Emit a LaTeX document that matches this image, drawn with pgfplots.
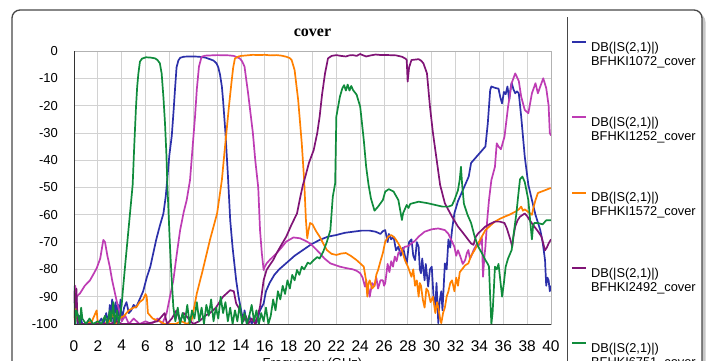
\documentclass[border=0pt]{standalone}
\usepackage{pgfplots}
\pgfplotsset{compat=1.18}
\usepackage{fontspec}
\setmainfont{Liberation Sans}
\newfontfamily\titlefont{Liberation Serif}
\definecolor{cblue}{RGB}{44,48,170}
\definecolor{cmag}{RGB}{190,60,180}
\definecolor{corange}{RGB}{255,128,0}
\definecolor{cpurple}{RGB}{128,20,118}
\definecolor{cgreen}{RGB}{16,140,60}
\newcommand{\lent}[1]{\begin{tabular}{@{}l@{}}DB(|S(2,1)|)\\#1\end{tabular}}
\begin{document}
\begin{tikzpicture}[x=1pt,y=1pt]
\fill[black!22, rounded corners=9pt] (-59,-70) rectangle (631.5,311);
\fill[white, rounded corners=8pt] (-62,-70) rectangle (628,314);
\draw[black!72, line width=1.3pt, rounded corners=8pt] (-62,-70) rectangle (628,314);
\draw[black!72, line width=1pt] (493,307) -- (493,-60);
\begin{axis}[
  anchor=south west, scale only axis,
  width=477pt, height=273pt,
  xmin=0, xmax=40, ymin=-100, ymax=0,
  xtick={0,2,...,40}, ytick={-100,-90,...,0},
  grid=major, grid style={gray!35, line width=0.8pt},
  major tick length=0pt,
  axis line style={draw=gray!60, line width=0.8pt},
  /pgf/number format/assume math mode=true,
  xticklabel style={inner sep=0pt, anchor=north, yshift=-16pt, font=\fontsize{15.5}{17}\selectfont},
  yticklabel style={inner sep=0pt, anchor=east, xshift=-16pt, font=\fontsize{13}{15}\selectfont},
  title={\titlefont\bfseries cover},
  title style={at={(axis description cs:0.5,1)}, anchor=base, yshift=8.3pt, font=\fontsize{16}{18}\selectfont},
  xlabel={Frequency (GHz)},
  xlabel style={at={(axis description cs:0.5,0)}, anchor=base, yshift=-43pt, font=\fontsize{13}{15}\selectfont},
  legend style={at={(axis description cs:1.0419,1.0385)}, anchor=north west,
    draw=none, fill=none, inner sep=0pt, row sep=56pt, column sep=4pt,
    font=\fontsize{12.8}{14}\selectfont, nodes={inner sep=0pt}, cells={anchor=west}},
  legend image code/.code={\draw[#1, line width=2pt] (0pt,8.8pt) -- (14pt,8.8pt); \path (0pt,-8.8pt);},
  after end axis/.code={\draw[black!80, line width=0.9pt] (rel axis cs:0,1) -- (rel axis cs:0,0) -- (rel axis cs:1,0);},
]
\addplot[cblue, line width=1.7pt, line join=round] coordinates {
(0,-86)(0.1,-95)(0.2,-90)(0.3,-100)(0.5,-97)(0.7,-100)(1.0,-100)(1.3,-99)(1.6,-100)(2.0,-100)(2.3,-98)(2.5,-100)(2.7,-96)(2.9,-100)(3.0,-93)(3.1,-99)(3.2,-91)(3.3,-100)(3.4,-94)(3.5,-92)(3.6,-100)(3.7,-93)(3.8,-97)(3.9,-91)(4.0,-99)(4.2,-94)(4.4,-92)(4.6,-96)(4.8,-95)(5.0,-93)(5.2,-94)(5.4,-92)(5.6,-90)(5.8,-88)(6.1,-83)(6.4,-79)(6.7,-73)(6.9,-69)(7.2,-64)(7.5,-59.5)(7.7,-53)(7.8,-48)(8.0,-38)(8.2,-31)(8.35,-22)(8.47,-14)(8.6,-6)(8.75,-3.5)(8.9,-2.5)(9.2,-2.1)(9.6,-2)(10.0,-2)(10.5,-2.1)(11.0,-2.4)(11.4,-3)(11.7,-3.5)(11.95,-4.5)(12.1,-6)(12.24,-8.5)(12.4,-13)(12.5,-18)(12.7,-30)(12.9,-45)(13.1,-62)(13.3,-72)(13.6,-84)(13.8,-90)(14.06,-96)(14.2,-99)(14.3,-95)(14.5,-100)(14.7,-97)(14.9,-100)(15.1,-98)(15.3,-99.6)(15.6,-95)(15.9,-92.5)(16.1,-88)(16.4,-85)(16.8,-82)(17.2,-80)(17.8,-77.7)(18.5,-75)(19.2,-72.9)(19.9,-70.8)(20.6,-69.2)(21.3,-68)(22.0,-67.4)(22.7,-66.6)(23.4,-66.2)(24.1,-65.8)(24.8,-65.8)(25.3,-66.2)(25.7,-67)(25.9,-66)(26.1,-65.6)(26.3,-70)(26.4,-67)(26.6,-69)(26.8,-68)(27.0,-73)(27.2,-71.7)(27.4,-75)(27.6,-72)(27.7,-74)(27.9,-78)(28.1,-70)(28.3,-69)(28.45,-75)(28.6,-76.6)(28.75,-70)(28.9,-71.7)(29.0,-80)(29.1,-81.4)(29.2,-76)(29.4,-84)(29.5,-78)(29.7,-86.3)(29.85,-80)(30.0,-79)(30.15,-90)(30.3,-93.7)(30.4,-85)(30.55,-99.7)(30.65,-92)(30.8,-88)(30.9,-95)(31.1,-77.8)(31.25,-80)(31.4,-69)(31.55,-72)(31.7,-65.6)(31.9,-59.4)(32.2,-55)(32.5,-52)(32.8,-49)(33.1,-46)(33.3,-41)(33.9,-38)(34.5,-35)(34.7,-26.5)(34.9,-14.3)(35.0,-13)(35.3,-13.5)(35.6,-13.8)(35.75,-17)(35.9,-19.2)(36.05,-15)(36.2,-15.8)(36.35,-13)(36.5,-18)(36.6,-14)(36.7,-11.6)(36.85,-14)(37.0,-15.5)(37.15,-14.8)(37.3,-15.5)(37.5,-24)(37.8,-38.7)(38.1,-49)(38.4,-54.6)(38.7,-60)(39.1,-65.6)(39.3,-70)(39.5,-76.6)(39.6,-86)(39.7,-83)(39.8,-84)(39.9,-88)(40,-86)
};
\addlegendentry{\lent{BFHKI1072\_cover}}
\addplot[cmag, line width=1.7pt, line join=round] coordinates {
(0,-92)(0.1,-86)(0.2,-90)(0.5,-88.8)(0.9,-86)(1.34,-84)(1.6,-82)(1.9,-79.6)(2.2,-76)(2.46,-69.2)(2.6,-70)(2.8,-75)(3.0,-79)(3.2,-84)(3.44,-88.8)(3.6,-92)(3.86,-96)(4.0,-99)(4.3,-97)(4.6,-100)(5.0,-98)(5.5,-100)(6.0,-99)(6.5,-100)(7.0,-98)(7.4,-100)(7.77,-96)(8.0,-91)(8.33,-84)(8.6,-75)(8.9,-65.6)(9.2,-59)(9.45,-54.6)(9.73,-47.3)(9.95,-35)(10.15,-24)(10.3,-14)(10.48,-5.7)(10.7,-2.1)(11.0,-1.7)(12.0,-1.5)(13.0,-1.6)(13.4,-1.8)(13.9,-2.7)(14.1,-3.8)(14.3,-5.7)(14.6,-15.5)(15.0,-30)(15.2,-40)(15.45,-50)(15.6,-65.6)(15.75,-74)(15.9,-80.2)(16.0,-79)(16.15,-77.8)(16.4,-76.6)(17.0,-74)(17.4,-72)(17.8,-69.8)(18.4,-68.3)(18.95,-68.6)(19.4,-69.5)(19.8,-70.5)(20.2,-72.2)(20.6,-74)(21.0,-76)(21.5,-77.8)(22.3,-79)(22.8,-79.5)(23.4,-80)(23.7,-80.5)(24.0,-81.4)(24.2,-83)(24.4,-86.3)(24.5,-84)(24.6,-89)(24.7,-87)(24.8,-90)(25.0,-85)(25.2,-86)(25.35,-83)(25.5,-87)(25.7,-84)(25.9,-84)(26.0,-86)(26.1,-85)(26.3,-78)(26.45,-81)(26.6,-77)(26.75,-79)(26.9,-75.3)(27.05,-77)(27.2,-74)(27.5,-73)(27.75,-71.7)(28.0,-71.5)(28.3,-70.5)(28.6,-69.5)(28.9,-68)(29.4,-66.2)(30.0,-65.3)(30.55,-65)(31.1,-65.6)(31.4,-67)(31.7,-69.8)(31.9,-71.7)(32.05,-75)(32.2,-73)(32.4,-75.3)(32.6,-78)(32.8,-76.6)(32.95,-74)(33.07,-72.9)(33.2,-76)(33.3,-75.3)(33.5,-73)(33.8,-70.5)(34.0,-71)(34.2,-68)(34.3,-82.7)(34.4,-76)(34.5,-71.7)(34.65,-62)(34.8,-54.6)(35.0,-47.3)(35.3,-42.4)(35.45,-33.8)(35.6,-35)(35.8,-36)(36.1,-31.4)(36.4,-20.4)(36.7,-11.8)(37.0,-8.2)(37.3,-11)(37.5,-16.7)(37.8,-21.6)(38.1,-22.8)(38.4,-15.5)(38.7,-11.8)(38.9,-15.5)(39.1,-13)(39.35,-10)(39.6,-13.6)(39.8,-20)(39.9,-30)(40,-31)
};
\addlegendentry{\lent{BFHKI1252\_cover}}
\addplot[corange, line width=1.7pt, line join=round] coordinates {
(0,-95)(0.1,-100)(0.2,-93)(0.3,-98)(0.5,-100)(1.0,-100)(1.5,-99)(1.9,-95)(2.0,-100)(2.5,-100)(3.0,-99)(3.3,-96)(3.5,-100)(3.8,-98)(4.2,-97)(4.6,-95)(5.0,-94)(5.25,-93.7)(5.5,-92)(5.8,-91)(6.0,-89)(6.1,-90)(6.2,-96)(6.6,-98)(7.2,-99)(7.6,-100)(8.5,-100)(9.0,-99)(9.5,-100)(9.87,-98.5)(10.3,-88.8)(10.8,-80.2)(11.4,-69.2)(12.0,-59.5)(12.4,-47.3)(12.6,-38)(12.8,-29)(13.0,-20)(13.2,-11.8)(13.35,-6)(13.5,-2.7)(13.8,-2)(14.0,-1.8)(14.5,-1.6)(15.0,-1.4)(15.5,-1.5)(16.0,-1.4)(16.5,-1.6)(17.0,-1.5)(17.4,-1.7)(17.8,-2.1)(18.1,-2.6)(18.25,-3.3)(18.5,-7)(18.8,-18)(19.1,-33.8)(19.3,-47.3)(19.45,-62)(19.56,-68.6)(19.65,-66)(19.8,-63)(20.0,-63.5)(20.3,-66)(20.6,-68)(20.9,-70.5)(21.2,-72.9)(21.6,-74.3)(22.0,-74.7)(22.4,-74.2)(22.8,-74)(23.2,-75)(23.7,-76.6)(24.0,-77.8)(24.3,-79)(24.45,-83)(24.5,-84)(24.6,-90)(24.7,-85)(24.8,-84)(25.0,-87)(25.2,-86)(25.35,-82)(25.5,-80.2)(25.7,-77)(25.9,-74)(26.1,-69.8)(26.35,-68)(26.6,-67.4)(26.9,-68.5)(27.2,-70.5)(27.5,-73)(27.75,-76.6)(28.0,-79)(28.3,-82.7)(28.45,-80)(28.6,-86)(28.75,-84)(28.9,-90)(29.0,-85)(29.1,-86)(29.25,-91)(29.4,-94)(29.55,-87)(29.7,-88)(29.9,-92)(30.1,-90)(30.3,-96)(30.45,-92)(30.55,-94)(30.7,-98)(30.8,-99.7)(30.95,-96)(31.1,-94)(31.25,-90)(31.4,-88)(31.55,-85)(31.7,-84)(31.9,-88)(32.05,-83)(32.2,-86)(32.35,-81)(32.5,-80.2)(32.8,-78.5)(33.07,-77.8)(33.3,-75)(33.6,-72.9)(34.05,-69.2)(34.5,-65.6)(34.9,-64)(35.3,-62.5)(35.7,-61.5)(36.1,-60.7)(36.5,-60)(37.0,-58.9)(37.3,-58)(37.5,-57)(37.65,-58.5)(37.8,-58)(38.1,-59)(38.4,-60)(38.55,-57)(38.7,-54.6)(38.9,-52)(39.2,-51.5)(39.5,-51)(39.9,-50.3)(40,-50.3)
};
\addlegendentry{\lent{BFHKI1572\_cover}}
\addplot[cpurple, line width=1.7pt, line join=round] coordinates {
(0,-88)(0.1,-94)(0.2,-87)(0.3,-99)(0.5,-100)(1.0,-100)(2.0,-100)(3.0,-100)(3.6,-99)(4.0,-100)(5.0,-100)(6.0,-100)(7.0,-99)(7.6,-96)(7.8,-100)(8.2,-98)(8.6,-95)(8.9,-99)(9.2,-96)(9.6,-98)(10.0,-100)(10.5,-99)(11.0,-97)(11.4,-96)(11.9,-94)(12.2,-92)(12.5,-90)(12.8,-88.8)(13.1,-87.6)(13.4,-88)(13.6,-92.5)(13.8,-94)(14.0,-96)(14.2,-99)(14.4,-97)(14.6,-100)(14.9,-98)(15.2,-100)(15.4,-97)(15.6,-93.7)(15.9,-84)(16.15,-80.2)(16.4,-78.5)(16.7,-76.6)(17.0,-74)(17.3,-71.7)(17.8,-68)(18.2,-64)(18.7,-59.5)(19.0,-53)(19.2,-49)(19.4,-46)(19.7,-41)(20.1,-36.3)(20.4,-30)(20.6,-24)(20.8,-16)(21.05,-8.2)(21.3,-2.7)(21.6,-1.8)(22.0,-1.5)(22.4,-1.8)(22.8,-2)(23.1,-1.6)(23.4,-1.5)(23.7,-1.8)(24.0,-1.1)(24.2,-1.5)(24.5,-2)(24.9,-1.6)(25.3,-1.3)(25.8,-1.5)(26.4,-1.5)(27.0,-1.6)(27.5,-2.1)(27.8,-2.8)(27.9,-3.3)(27.98,-11.2)(28.1,-6)(28.3,-3.3)(28.9,-3)(29.1,-3.5)(29.3,-4.5)(29.6,-8.2)(29.85,-20.4)(30.1,-30)(30.3,-36.3)(30.7,-49)(31.1,-55.8)(31.7,-60.7)(32.2,-64.3)(32.6,-66.5)(33.07,-69.2)(33.3,-70.5)(33.5,-71)(33.7,-68)(33.9,-66.8)(34.5,-64.3)(34.9,-63.3)(35.3,-62.5)(35.7,-62.5)(36.1,-63)(36.3,-65)(36.6,-69.2)(36.75,-71.7)(36.85,-68)(37.0,-64.3)(37.2,-62)(37.4,-60.7)(37.8,-59.5)(38.0,-60.5)(38.2,-61.9)(38.6,-64.3)(38.9,-66)(39.2,-68)(39.5,-73)(39.65,-72)(39.8,-70.5)(40,-69)
};
\addlegendentry{\lent{BFHKI2492\_cover}}
\addplot[cgreen, line width=1.7pt, line join=round] coordinates {
(0,-92)(0.1,-100)(0.2,-95)(0.35,-97)(0.5,-100)(0.6,-94)(0.7,-98)(1.0,-100)(1.3,-98)(1.6,-100)(2.0,-99)(2.3,-100)(2.6,-97)(2.8,-100)(3.0,-95)(3.1,-99)(3.3,-92)(3.4,-100)(3.6,-95)(3.75,-99.7)(3.86,-97)(4.0,-93)(4.1,-87.6)(4.3,-78)(4.6,-64)(4.92,-49)(5.05,-35)(5.2,-20.4)(5.3,-13)(5.4,-8.2)(5.53,-3.9)(5.7,-2.8)(6.04,-2.3)(6.4,-2.4)(6.8,-2.7)(7.0,-3.3)(7.2,-4.5)(7.35,-8.2)(7.5,-17)(7.63,-26.4)(7.75,-38)(7.83,-49)(8.05,-71.7)(8.2,-84)(8.33,-93.7)(8.5,-99)(8.7,-94)(8.9,-100)(9.1,-96)(9.3,-99)(9.5,-93)(9.7,-100)(9.9,-95)(10.1,-98)(10.3,-92)(10.5,-99)(10.7,-94)(10.9,-100)(11.1,-93)(11.3,-97)(11.5,-91)(11.7,-99)(11.9,-94)(12.1,-98)(12.3,-90)(12.5,-96)(12.7,-92)(12.9,-99)(13.1,-94)(13.3,-100)(13.5,-95)(13.7,-99)(13.9,-93)(14.1,-100)(14.3,-96)(14.5,-100)(14.7,-97)(14.9,-93)(15.1,-99)(15.3,-95)(15.5,-100)(15.7,-96)(15.9,-99)(16.1,-94)(16.3,-100)(16.5,-97)(16.7,-91)(16.9,-95)(17.1,-88)(17.3,-91)(17.5,-86)(17.7,-89)(17.9,-84)(18.1,-87)(18.3,-82)(18.5,-84)(18.7,-80.2)(18.9,-82)(19.1,-79)(19.3,-80)(19.6,-77.5)(19.8,-78)(20.1,-76.6)(20.4,-75.5)(20.6,-76)(20.9,-73.5)(21.2,-70)(21.5,-65.6)(21.7,-53.4)(21.9,-48.5)(22.0,-24)(22.3,-16.7)(22.5,-13.7)(22.65,-12.5)(22.8,-14.5)(22.95,-12.3)(23.1,-14.5)(23.25,-12.8)(23.4,-14.3)(23.7,-16)(24.0,-20.4)(24.3,-32.6)(24.5,-42.4)(24.7,-49)(24.9,-54)(25.2,-58.5)(25.5,-57)(25.9,-54.6)(26.1,-51.5)(26.4,-50.6)(26.8,-51.5)(27.2,-54.6)(27.5,-61.9)(27.6,-59.4)(27.9,-56.4)(28.05,-57.5)(28.2,-56)(28.9,-55.2)(29.6,-55.7)(30.3,-56.4)(30.9,-57)(31.4,-57)(31.7,-56.5)(31.9,-54.6)(32.2,-51)(32.35,-47)(32.45,-42.4)(32.55,-49)(32.7,-56)(33.0,-60)(33.3,-63)(33.6,-68)(33.9,-71.7)(34.2,-74)(34.5,-76.6)(34.7,-78)(34.8,-79)(34.9,-90)(35.0,-100)(35.1,-96)(35.2,-88)(35.3,-79)(35.45,-80)(35.6,-78)(35.75,-84)(35.9,-90)(36.05,-85)(36.2,-79)(36.4,-76)(36.7,-72.9)(36.9,-66)(37.1,-59.4)(37.25,-53)(37.4,-47)(37.6,-46)(37.8,-48)(38.1,-54.6)(38.25,-62)(38.4,-69)(38.5,-64)(38.6,-63)(38.9,-63)(39.3,-63.5)(39.6,-62)(39.9,-62)(40,-62)
};
\addlegendentry{\lent{BFHKI6751\_cover}}
\end{axis}
\pgfresetboundingbox
\useasboundingbox (-74,-36) rectangle (636,324);
\end{tikzpicture}
\end{document}
